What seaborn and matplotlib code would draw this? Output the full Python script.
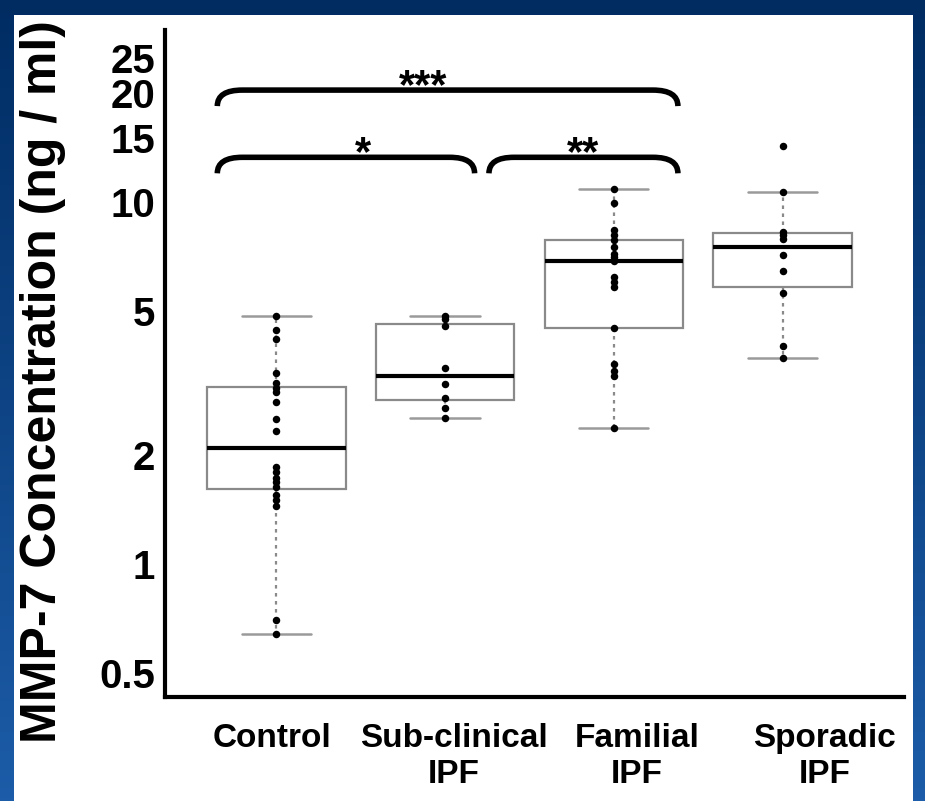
import numpy as np
import pandas as pd
import matplotlib
matplotlib.use("Agg")
import matplotlib.pyplot as plt
import seaborn as sns
from matplotlib.path import Path
from matplotlib.patches import PathPatch, Rectangle
from matplotlib.colors import LinearSegmentedColormap
from matplotlib.ticker import FixedLocator, FixedFormatter, NullLocator
import matplotlib.transforms as mtransforms

# ---------------- data ----------------
groups = ["Control", "Sub-clinical\nIPF", "Familial\nIPF", "Sporadic\nIPF"]
control = [0.64, 0.70, 1.45, 1.50, 1.55, 1.63, 1.68, 1.73, 1.80, 1.85,
           2.33, 2.52, 2.80, 2.99, 3.07, 3.16, 3.37, 4.18, 4.43, 4.85]
subclinical = [2.53, 2.70, 2.88, 3.14, 3.49, 4.55, 4.75, 4.85]
familial = [2.38, 3.30, 3.42, 3.58, 4.48, 5.81, 6.00, 6.20, 6.87,
            7.05, 7.19, 7.50, 7.85, 8.10, 8.40, 9.92, 10.84]
sporadic = [3.70, 4.00, 5.62, 6.45, 7.14, 7.90, 8.10, 8.28, 10.68, 14.28]
y_ticks = [0.5, 1, 2, 5, 10, 15, 20, 25]
y_tick_labels = ["0.5", "1", "2", "5", "10", "15", "20", "25"]
y_label = "MMP-7 Concentration (ng / ml)"
# (left group, right group, label)
comparisons = [(0, 2, "***"), (0, 1, "*"), (1, 2, "**")]

series = [control, subclinical, familial, sporadic]
df = pd.DataFrame({
    "group": np.repeat(groups, [len(s) for s in series]),
    "value": np.concatenate(series),
})

# ---------------- style ----------------
sns.set_theme(style="white")
plt.rcParams["font.family"] = ["Liberation Sans", "DejaVu Sans"]

W, H = 925, 801
fig = plt.figure(figsize=(W / 100, H / 100), dpi=100)

# slide background: blue gradient frame with white panel
bg = fig.add_axes([0, 0, 1, 1], zorder=-10)
grad = np.linspace(0, 1, 256).reshape(-1, 1)
cmap = LinearSegmentedColormap.from_list("bg", ["#002c62", "#1c5ca8"])
bg.imshow(grad, aspect="auto", cmap=cmap, extent=[0, 1, 0, 1], origin="upper")
bg.add_patch(Rectangle((14 / W, 0), (913 - 14) / W, (H - 15) / H,
                       facecolor="white", edgecolor="none", transform=bg.transAxes))
bg.set_xlim(0, 1)
bg.set_ylim(0, 1)
bg.axis("off")

ax_l, ax_r, ax_b, ax_t = 165, 904, 697, 30
ax = fig.add_axes([ax_l / W, (H - ax_b) / H, (ax_r - ax_l) / W, (ax_b - ax_t) / H])
ax.set_facecolor("none")

xlo, xhi = -0.66, 3.72
sns.boxplot(data=df, x="group", y="value", order=groups, ax=ax,
            width=0.82, color="white", linecolor="#8a8a8a", linewidth=1.6,
            showfliers=False,
            whiskerprops=dict(linestyle=(0, (1.6, 2.0)), color="#8a8a8a", linewidth=1.6),
            capprops=dict(color="#9a9a9a", linewidth=1.8),
            medianprops=dict(color="black", linewidth=3.0))
sns.stripplot(data=df, x="group", y="value", order=groups, ax=ax,
              color="black", size=5.4, jitter=False, zorder=3)

ax.set_yscale("log")
ymin, ymax = 0.429, 29.9
ax.set_ylim(ymin, ymax)
ax.set_xlim(xlo, xhi)
ax.yaxis.set_major_locator(FixedLocator(y_ticks))
ax.yaxis.set_major_formatter(FixedFormatter(y_tick_labels))
ax.yaxis.set_minor_locator(NullLocator())

for s in ["top", "right"]:
    ax.spines[s].set_visible(False)
for s in ["left", "bottom"]:
    ax.spines[s].set_linewidth(3.0)
    ax.spines[s].set_color("black")

ax.tick_params(axis="y", which="major", direction="out", length=5, width=2,
               color="black", pad=2, labelsize=29, labelcolor="black")
ax.tick_params(axis="x", length=0, pad=19, labelsize=24, labelcolor="black")
for lab in ax.get_yticklabels():
    lab.set_fontweight("bold")

x_offsets_px = [-4, 9, 23, 42]
for lab, off in zip(ax.get_xticklabels(), x_offsets_px):
    lab.set_fontweight("bold")
    lab.set_family(["Liberation Sans Narrow", "Liberation Sans", "DejaVu Sans"])
    lab.set_linespacing(1.2)
    lab.set_multialignment("center")
    lab.set_transform(lab.get_transform() +
                      mtransforms.ScaledTranslation(off / 100, 0, fig.dpi_scale_trans))

ax.set_xlabel("")
ax.set_ylabel(y_label, fontsize=36, fontweight="bold", color="black")
ax.yaxis.set_label_coords((66 - ax_l) / (ax_r - ax_l), (ax_b - 382) / (ax_b - ax_t))

# ---------------- significance brackets ----------------
px_per_decade = (ax_b - ax_t) / (np.log10(ymax) - np.log10(ymin))
px_per_cat = (ax_r - ax_l) / (xhi - xlo)


def drop(y, px):
    return y / 10 ** (px / px_per_decade)


def bracket(x0, x1, y_top, label, label_x):
    dx = 25 / px_per_cat
    y_bot = drop(y_top, 16)
    verts = [(x0, y_bot), (x0, y_top), (x0 + dx, y_top),
             (x1 - dx, y_top), (x1, y_top), (x1, y_bot)]
    codes = [Path.MOVETO, Path.CURVE3, Path.CURVE3,
             Path.LINETO, Path.CURVE3, Path.CURVE3]
    ax.add_patch(PathPatch(Path(verts, codes), facecolor="none", edgecolor="black",
                           linewidth=4.0, capstyle="butt", joinstyle="round",
                           transform=ax.transData, clip_on=False, zorder=4))
    ax.text(label_x, drop(y_top, 8), label, ha="center", va="baseline",
            fontsize=30, fontweight="bold", color="black", zorder=5, clip_on=False)


bracket_specs = {
    (0, 2): (-0.35, 2.38, 20.4, 0.867),
    (0, 1): (-0.35, 1.175, 13.3, 0.516),
    (1, 2): (1.26, 2.38, 13.3, 1.816),
}
for a, b, lab in comparisons:
    x0, x1, yt, lx = bracket_specs[(a, b)]
    bracket(x0, x1, yt, lab, lx)

fig.savefig("out.png", dpi=100)
